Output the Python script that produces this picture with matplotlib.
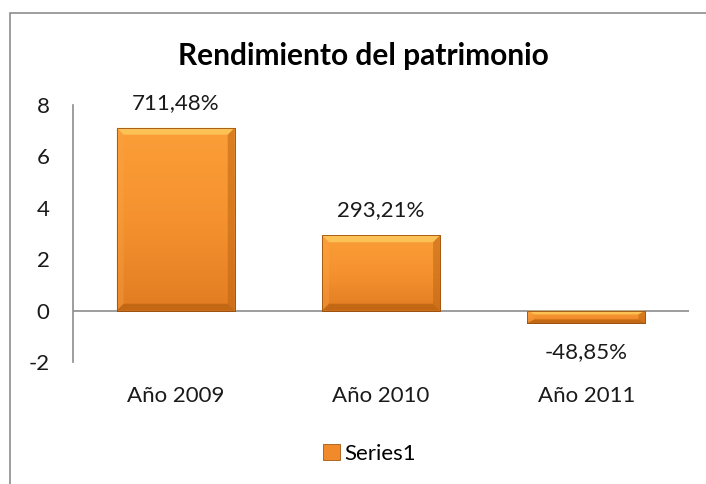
import numpy as np
import matplotlib.pyplot as plt
import matplotlib.patches as mpatches
from matplotlib.colors import LinearSegmentedColormap

# ---------- datos ----------
categorias = ["Año 2009", "Año 2010", "Año 2011"]
valores = [7.1148, 2.9321, -0.4885]
serie = "Series1"
yticks = [-2, 0, 2, 4, 6, 8]
titulo = "Rendimiento del patrimonio"

plt.rcParams['font.family'] = ['Lato', 'DejaVu Sans']

fig = plt.figure(figsize=(7.06, 4.84), dpi=100)
ax = fig.add_axes([0.1034, 0.252, 0.8726, 0.531])

# ---------- barras con degradado y bisel ----------
ancho = 0.575
barras = ax.bar(range(len(valores)), valores, width=ancho,
                color='#F79432', edgecolor='#A65812', linewidth=0.6, zorder=3)

cmap = LinearSegmentedColormap.from_list('naranja', ['#FB9E38', '#F5922F', '#E27C22'])
grad = np.linspace(0, 1, 256).reshape(-1, 1)
for b in barras:
    x0, y0 = b.get_x(), b.get_y()
    w, h = b.get_width(), b.get_height()
    yb, yt = min(y0, y0 + h), max(y0, y0 + h)
    im = ax.imshow(grad, cmap=cmap, aspect='auto', extent=[x0, x0 + w, yb, yt],
                   origin='upper', zorder=3.1)
    im.set_clip_path(b)
    # bisel
    bx = 0.034
    by = min(0.27, (yt - yb) * 0.3)
    top = [(x0, yt), (x0 + w, yt), (x0 + w - bx, yt - by), (x0 + bx, yt - by)]
    bot = [(x0, yb), (x0 + w, yb), (x0 + w - bx, yb + by), (x0 + bx, yb + by)]
    izq = [(x0, yb), (x0, yt), (x0 + bx, yt - by), (x0 + bx, yb + by)]
    der = [(x0 + w, yb), (x0 + w, yt), (x0 + w - bx, yt - by), (x0 + w - bx, yb + by)]
    for pts, c, a in [(top, '#FFCF60', 0.75), (bot, '#B5600F', 0.7),
                      (izq, '#FBA444', 0.35), (der, '#BE6612', 0.55)]:
        ax.add_patch(mpatches.Polygon(pts, closed=True, facecolor=c,
                                      edgecolor='none', alpha=a, zorder=3.2))
    ax.add_patch(mpatches.Rectangle((x0, yb), w, yt - yb, facecolor='none',
                                    edgecolor='#9A5010', linewidth=0.6, zorder=3.3))

# ---------- etiquetas de datos ----------
for i, v in enumerate(valores):
    txt = f"{v * 100:.2f}%".replace('.', ',')
    off = 18 if v >= 0 else -21
    ax.annotate(txt, (i, v), xytext=(0, off), textcoords='offset points',
                ha='center', va='center', fontsize=16, color='#1a1a1a')

# ---------- ejes ----------
ax.set_xlim(-0.5, len(valores) - 0.5)
ax.set_ylim(-2, 8)
ax.set_yticks(yticks)
ax.set_yticklabels([str(t) for t in yticks], fontsize=16)
ax.set_xticks(range(len(categorias)))
ax.set_xticklabels(categorias, fontsize=16)
ax.tick_params(axis='y', length=0, pad=17, colors='#1a1a1a')
ax.tick_params(axis='x', length=0, pad=17, colors='#1a1a1a')
ax.axhline(0, color='#8C8C8C', linewidth=1.2, zorder=2)
for s in ['top', 'right', 'bottom']:
    ax.spines[s].set_visible(False)
ax.spines['left'].set_color('#8C8C8C')
ax.spines['left'].set_linewidth(1.2)

fig.text(0.515, 0.885, titulo, ha='center', va='center',
         fontsize=21.5, fontweight='bold')

# ---------- leyenda ----------
h = mpatches.Patch(facecolor='#F08A2A', edgecolor='#A65812', linewidth=0.6)
fig.legend([h], [serie], loc='center', bbox_to_anchor=(0.523, 0.062),
           frameon=False, fontsize=16, handlelength=0.75, handleheight=0.75,
           handletextpad=0.2)

# ---------- marco ----------
fig.patches.append(mpatches.Rectangle((10 / 706, -0.1), 1.2, 1 - 13 / 484 + 0.1,
                                      transform=fig.transFigure, fill=False,
                                      edgecolor='#8C8C8C', linewidth=1.2))

fig.savefig('out.png', dpi=100)
